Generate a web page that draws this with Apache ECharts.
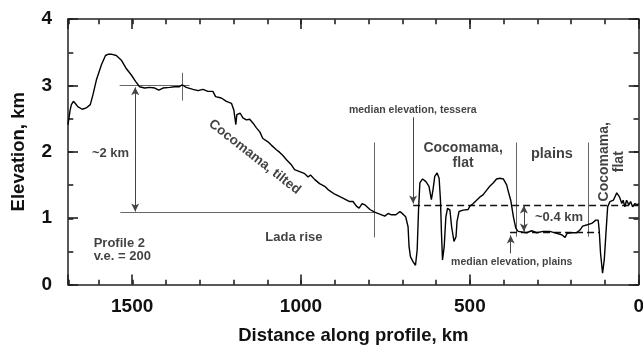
<!DOCTYPE html>
<html lang="en">
<head>
  <meta charset="utf-8">
  <title>Profile 2</title>
  <script src="https://cdn.jsdelivr.net/npm/echarts@6/dist/echarts.min.js"></script>
  <style>
    html, body { margin: 0; padding: 0; background: #fff; }
    #chart { width: 643px; height: 348px; }
  </style>
</head>
<body>
  <div id="chart"></div>
  <script>
    // topographic profile: distance along profile (km) and elevation (km)
    var profileKm = [1690, 1684, 1680, 1674, 1667, 1661, 1648, 1636, 1624, 1616, 1606, 1591, 1579, 1570, 1562, 1547, 1532, 1517, 1503, 1490,
      1478, 1463, 1448, 1433, 1421, 1409, 1389, 1374, 1360, 1352, 1340, 1320, 1305, 1290, 1276, 1261, 1253, 1236, 1221, 1206,
      1199, 1193, 1190, 1180, 1172, 1162, 1152, 1142, 1132, 1122, 1113, 1098, 1088, 1073, 1063, 1053, 1043, 1028, 1019, 1004,
      989, 979, 972, 959, 945, 930, 920, 900, 876, 856, 846, 836, 828, 819, 811, 796, 782, 767, 752, 742,
      732, 719, 707, 698, 690, 683, 680, 676, 668, 661, 656, 652, 648, 640, 630, 621, 614, 609, 604, 597,
      591, 587, 584, 581, 576, 571, 566, 559, 554, 547, 541, 538, 532, 520, 505, 500, 490, 480, 470, 461,
      449, 441, 431, 421, 411, 401, 391, 386, 379, 371, 364, 357, 352, 332, 317, 302, 283, 263, 243, 228,
      218, 212, 199, 184, 174, 166, 152, 139, 127, 120, 117, 113, 107, 102, 97, 92, 85, 75, 65, 57,
      50, 46, 41, 36, 29, 24, 18, 11, 4, 0];
    var profileElev = [2.41, 2.62, 2.71, 2.76, 2.72, 2.68, 2.64, 2.66, 2.71, 2.86, 3.08, 3.31, 3.45, 3.47, 3.47, 3.45, 3.38, 3.25, 3.16, 3.06,
      2.98, 2.96, 2.97, 2.96, 2.93, 2.96, 2.97, 2.98, 2.98, 3.01, 2.97, 2.94, 2.92, 2.94, 2.91, 2.91, 2.83, 2.81, 2.76, 2.73,
      2.63, 2.41, 2.56, 2.58, 2.51, 2.48, 2.49, 2.43, 2.36, 2.30, 2.20, 2.15, 2.10, 2.03, 1.99, 1.94, 1.88, 1.80, 1.73, 1.70,
      1.67, 1.62, 1.65, 1.58, 1.52, 1.48, 1.43, 1.36, 1.30, 1.25, 1.25, 1.18, 1.15, 1.22, 1.20, 1.13, 1.09, 1.06, 1.03, 1.07,
      1.05, 1.05, 1.10, 1.06, 1.02, 0.87, 0.57, 0.42, 0.34, 0.29, 0.52, 1.12, 1.53, 1.59, 1.55, 1.48, 1.28, 1.43, 1.63, 1.68,
      1.60, 1.27, 0.77, 0.37, 0.57, 1.02, 1.15, 1.12, 0.87, 0.65, 0.72, 0.95, 1.10, 1.12, 1.13, 1.18, 1.22, 1.27, 1.32, 1.35,
      1.43, 1.48, 1.53, 1.59, 1.60, 1.59, 1.50, 1.40, 1.27, 1.02, 0.85, 0.80, 0.77, 0.78, 0.81, 0.78, 0.80, 0.80, 0.77, 0.75,
      0.71, 0.77, 0.78, 0.78, 0.82, 0.88, 0.90, 0.92, 0.97, 0.97, 0.82, 0.47, 0.17, 0.37, 0.77, 1.17, 1.25, 1.27, 1.38, 1.32,
      1.22, 1.27, 1.17, 1.27, 1.20, 1.25, 1.17, 1.22, 1.20, 1.22];

    // axis extents and tick steps
    var kmRange = [0, 1690];
    var elevRange = [0, 4];
    var kmMajor = 500, kmMinor = 100;
    var elevMajor = 1, elevMinor = 0.5;

    // thin guide lines [km1, elev1, km2, elev2]
    var guideLines = [
      [1537, 3.0, 1330, 3.0],
      [1353, 3.19, 1353, 2.77],
      [1535, 1.09, 782, 1.09],
      [783, 2.14, 783, 0.71],
      [362, 2.14, 362, 0.72],
      [149, 2.14, 149, 0.72]
    ];
    // median elevation levels (dashed)
    var medianLines = [
      [668, 1.2, 0, 1.2],
      [381, 0.78, 115, 0.78]
    ];
    // arrows with heads on both ends
    var doubleArrows = [
      [1491, 2.97, 1491, 1.10],
      [340, 1.19, 340, 0.80]
    ];
    // arrows with a head at the second point
    var singleArrows = [
      [668, 2.52, 668, 1.22],
      [379, 0.47, 379, 0.74]
    ];

    // text notes [text, km, elev]
    var notes = [
      ['~2 km', 1564, 1.98],
      ['Cocomama, tilted', 1137, 1.92],
      ['median elevation, tessera', 669, 2.63],
      ['Cocomama,\nflat', 520, 1.94],
      ['plains', 257, 1.97],
      ['Cocomama,\nflat', 79, 1.85],
      ['Lada rise', 1021, 0.71],
      ['~0.4 km', 236, 1.01],
      ['median elevation, plains', 376, 0.34],
      ['Profile 2\nv.e. = 200', 1614, 0.52]
    ];

    var font = 'Liberation Sans, Arial, Helvetica, sans-serif';
    var axisColor = '#222';

    // per-note text style (same order as notes)
    var noteStyle = [
      { fontSize: 13 },
      { fontSize: 13.5, rotate: -38 },
      { fontSize: 10.5 },
      { fontSize: 14, lineHeight: 15 },
      { fontSize: 14.5 },
      { fontSize: 14, lineHeight: 15, rotate: 90 },
      { fontSize: 13 },
      { fontSize: 13 },
      { fontSize: 10.5 },
      { fontSize: 13, lineHeight: 13, align: 'left' }
    ];

    function xAxisOf(grid, pos, step, major) {
      return {
        gridIndex: grid, type: 'value', position: pos,
        min: kmRange[0], max: kmRange[1], interval: step, inverse: true,
        axisLine: { show: major, onZero: false, lineStyle: { color: axisColor, width: 1.5 } },
        axisTick: { show: true, inside: true, length: major ? 10 : 5, lineStyle: { color: axisColor, width: 1.6 } },
        axisLabel: {
          show: major && pos === 'bottom', margin: 13,
          fontFamily: font, fontWeight: 'bold', fontSize: 19, color: '#111',
          formatter: function (v) { return v % kmMajor === 0 ? String(v) : ''; }
        },
        splitLine: { show: false },
        name: (major && pos === 'bottom') ? 'Distance along profile, km' : '',
        nameLocation: 'middle', nameGap: 42,
        nameTextStyle: { fontFamily: font, fontWeight: 'bold', fontSize: 18.5, color: '#111' }
      };
    }

    function yAxisOf(grid, pos, step, major) {
      return {
        gridIndex: grid, type: 'value', position: pos,
        min: elevRange[0], max: elevRange[1], interval: step,
        axisLine: { show: major, onZero: false, lineStyle: { color: axisColor, width: 1.5 } },
        axisTick: { show: true, inside: true, length: major ? 10 : 5, lineStyle: { color: axisColor, width: 1.6 } },
        axisLabel: {
          show: major && pos === 'left', margin: 16,
          fontFamily: font, fontWeight: 'bold', fontSize: 19, color: '#111'
        },
        splitLine: { show: false },
        name: (major && pos === 'left') ? 'Elevation, km' : '',
        nameLocation: 'middle', nameGap: 40,
        nameTextStyle: { fontFamily: font, fontWeight: 'bold', fontSize: 18.5, color: '#111' }
      };
    }

    function seg(s, style, heads, size) {
      return [
        { coord: [s[0], s[1]], symbol: heads[0], symbolSize: size, lineStyle: style },
        { coord: [s[2], s[3]], symbol: heads[1], symbolSize: size, lineStyle: style }
      ];
    }

    var thin = { color: '#666', width: 1, type: 'solid' };
    var dashed = { color: '#111', width: 1.3, type: [7, 4] };
    var arrowStyle = { color: '#444', width: 1, type: 'solid' };

    var markData = []
      .concat(guideLines.map(function (s) { return seg(s, thin, ['none', 'none'], 0); }))
      .concat(medianLines.map(function (s) { return seg(s, dashed, ['none', 'none'], 0); }))
      .concat(doubleArrows.map(function (s) { return seg(s, arrowStyle, ['arrow', 'arrow'], [6, 8]); }))
      .concat(singleArrows.map(function (s) { return seg(s, arrowStyle, ['none', 'arrow'], [6, 8]); }));

    var chart = echarts.init(document.getElementById('chart'));
    // plot box for the profile; the minor-tick grid sits a fraction of a pixel off it
    var outer = { left: -40, right: -40, top: -40, bottom: -40 };
    var mainGrid = { left: 68, right: 4.3, top: 19, bottom: 63.5, outerBounds: outer };
    var minorGrid = { left: 68.3, right: 4.5, top: 19.2, bottom: 63.3, outerBounds: outer };

    chart.setOption({
      animation: false,
      grid: [mainGrid, minorGrid],
      xAxis: [
        xAxisOf(0, 'bottom', kmMajor, true),
        xAxisOf(0, 'top', kmMajor, true),
        xAxisOf(1, 'bottom', kmMinor, false),
        xAxisOf(1, 'top', kmMinor, false)
      ],
      yAxis: [
        yAxisOf(0, 'left', elevMajor, true),
        yAxisOf(0, 'right', elevMajor, true),
        yAxisOf(1, 'left', elevMinor, false),
        yAxisOf(1, 'right', elevMinor, false)
      ],
      series: [
        {
          type: 'line',
          xAxisIndex: 0, yAxisIndex: 0,
          data: profileKm.map(function (k, i) { return [k, profileElev[i]]; }),
          symbol: 'none',
          lineStyle: { color: '#000', width: 1.4 },
          z: 5,
          markLine: {
            silent: true,
            label: { show: false },
            data: markData
          }
        },
        {
          type: 'scatter',
          xAxisIndex: 0, yAxisIndex: 0,
          symbolSize: 0,
          silent: true,
          z: 6,
          label: {
            show: true, position: 'inside', color: '#111',
            fontFamily: font, fontWeight: 'bold',
            align: 'center', verticalAlign: 'middle',
            formatter: function (p) { return p.data.name; }
          },
          data: notes.map(function (n, i) {
            return { name: n[0], value: [n[1], n[2]], label: noteStyle[i] };
          })
        }
      ]
    });

    window.onresize = function () { chart.resize(); };
  </script>
</body>
</html>
